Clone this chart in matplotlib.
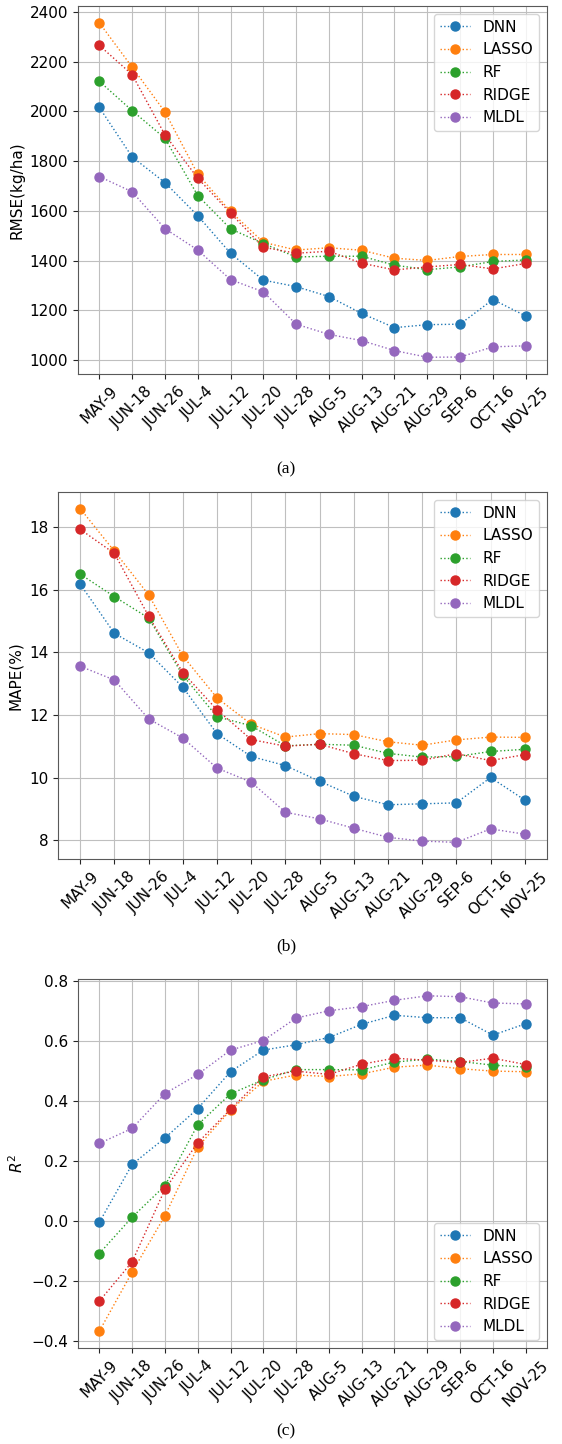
import numpy as np
import matplotlib
matplotlib.use("Agg")
import matplotlib.pyplot as plt

dates = ["MAY-9", "JUN-18", "JUN-26", "JUL-4", "JUL-12", "JUL-20", "JUL-28",
         "AUG-5", "AUG-13", "AUG-21", "AUG-29", "SEP-6", "OCT-16", "NOV-25"]
models = ["DNN", "LASSO", "RF", "RIDGE", "MLDL"]

# RMSE (kg/ha)
rmse_dnn = [2016, 1817, 1714, 1581, 1430, 1322, 1296, 1256, 1188, 1131, 1143, 1145, 1244, 1178]
rmse_lasso = [2356, 2178, 1998, 1748, 1598, 1474, 1443, 1452, 1442, 1410, 1401, 1417, 1425, 1425]
rmse_rf = [2121, 2003, 1892, 1662, 1528, 1469, 1415, 1418, 1418, 1382, 1364, 1375, 1397, 1403]
rmse_ridge = [2265, 2148, 1906, 1732, 1591, 1454, 1430, 1438, 1390, 1363, 1375, 1385, 1367, 1389]
rmse_mldl = [1738, 1677, 1529, 1443, 1324, 1275, 1145, 1104, 1079, 1039, 1012, 1013, 1054, 1058]

# MAPE (%)
mape_dnn = [16.18, 14.61, 13.99, 12.89, 11.41, 10.68, 10.39, 9.89, 9.41, 9.14, 9.17, 9.20, 10.01, 9.29]
mape_lasso = [18.59, 17.23, 15.84, 13.89, 12.55, 11.71, 11.30, 11.41, 11.38, 11.15, 11.04, 11.21, 11.30, 11.29]
mape_rf = [16.50, 15.78, 15.10, 13.27, 11.95, 11.66, 11.02, 11.07, 11.04, 10.78, 10.66, 10.68, 10.84, 10.91]
mape_ridge = [17.93, 17.16, 15.16, 13.36, 12.17, 11.22, 11.01, 11.07, 10.77, 10.55, 10.56, 10.77, 10.55, 10.74]
mape_mldl = [13.56, 13.12, 11.88, 11.27, 10.31, 9.86, 8.90, 8.69, 8.39, 8.10, 7.98, 7.94, 8.37, 8.20]

# R^2
r2_dnn = [-0.006, 0.187, 0.275, 0.373, 0.496, 0.568, 0.586, 0.610, 0.654, 0.684, 0.676, 0.676, 0.618, 0.656]
r2_lasso = [-0.369, -0.172, 0.016, 0.245, 0.368, 0.464, 0.485, 0.480, 0.489, 0.511, 0.518, 0.506, 0.498, 0.496]
r2_rf = [-0.110, 0.011, 0.116, 0.319, 0.422, 0.469, 0.503, 0.503, 0.502, 0.528, 0.538, 0.530, 0.518, 0.511]
r2_ridge = [-0.269, -0.138, 0.104, 0.259, 0.371, 0.479, 0.498, 0.487, 0.521, 0.541, 0.534, 0.527, 0.541, 0.520]
r2_mldl = [0.257, 0.307, 0.423, 0.487, 0.568, 0.600, 0.675, 0.699, 0.713, 0.734, 0.749, 0.746, 0.725, 0.722]

panels = [
    ([rmse_dnn, rmse_lasso, rmse_rf, rmse_ridge, rmse_mldl], "RMSE(kg/ha)", "upper right", "(a)",
     [0.1388, 0.7410, 0.8345, 0.2548], 0.6752),
    ([mape_dnn, mape_lasso, mape_rf, mape_ridge, mape_mldl], "MAPE(%)", "upper right", "(b)",
     [0.1032, 0.4051, 0.8701, 0.2542], 0.3449),
    ([r2_dnn, r2_lasso, r2_rf, r2_ridge, r2_mldl], "$R^2$", "lower right", "(c)",
     [0.1388, 0.0665, 0.8345, 0.2555], 0.0090),
]

fig = plt.figure(figsize=(5.62, 14.44), dpi=100)
x = np.arange(len(dates))

for series, ylabel, loc, caption, rect, cap_y in panels:
    ax = fig.add_axes(rect)
    for name, vals in zip(models, series):
        ax.plot(x, vals, ':', marker='o', markersize=6.5, linewidth=1.0, label=name)
    ax.set_xticks(x)
    ax.set_xticklabels(dates, rotation=45, fontsize=11)
    ax.tick_params(axis='y', labelsize=11)
    ax.tick_params(colors='0.15', labelcolor='black')
    for sp in ax.spines.values():
        sp.set_color('0.35')
    ax.set_ylabel(ylabel, fontsize=11)
    ax.grid(True, color='0.75')
    ax.legend(loc=loc, fontsize=11)
    fig.text(0.509, cap_y, caption, ha='center', va='center',
             family='Liberation Serif', fontsize=12.5)

fig.savefig("out.png", dpi=100)
